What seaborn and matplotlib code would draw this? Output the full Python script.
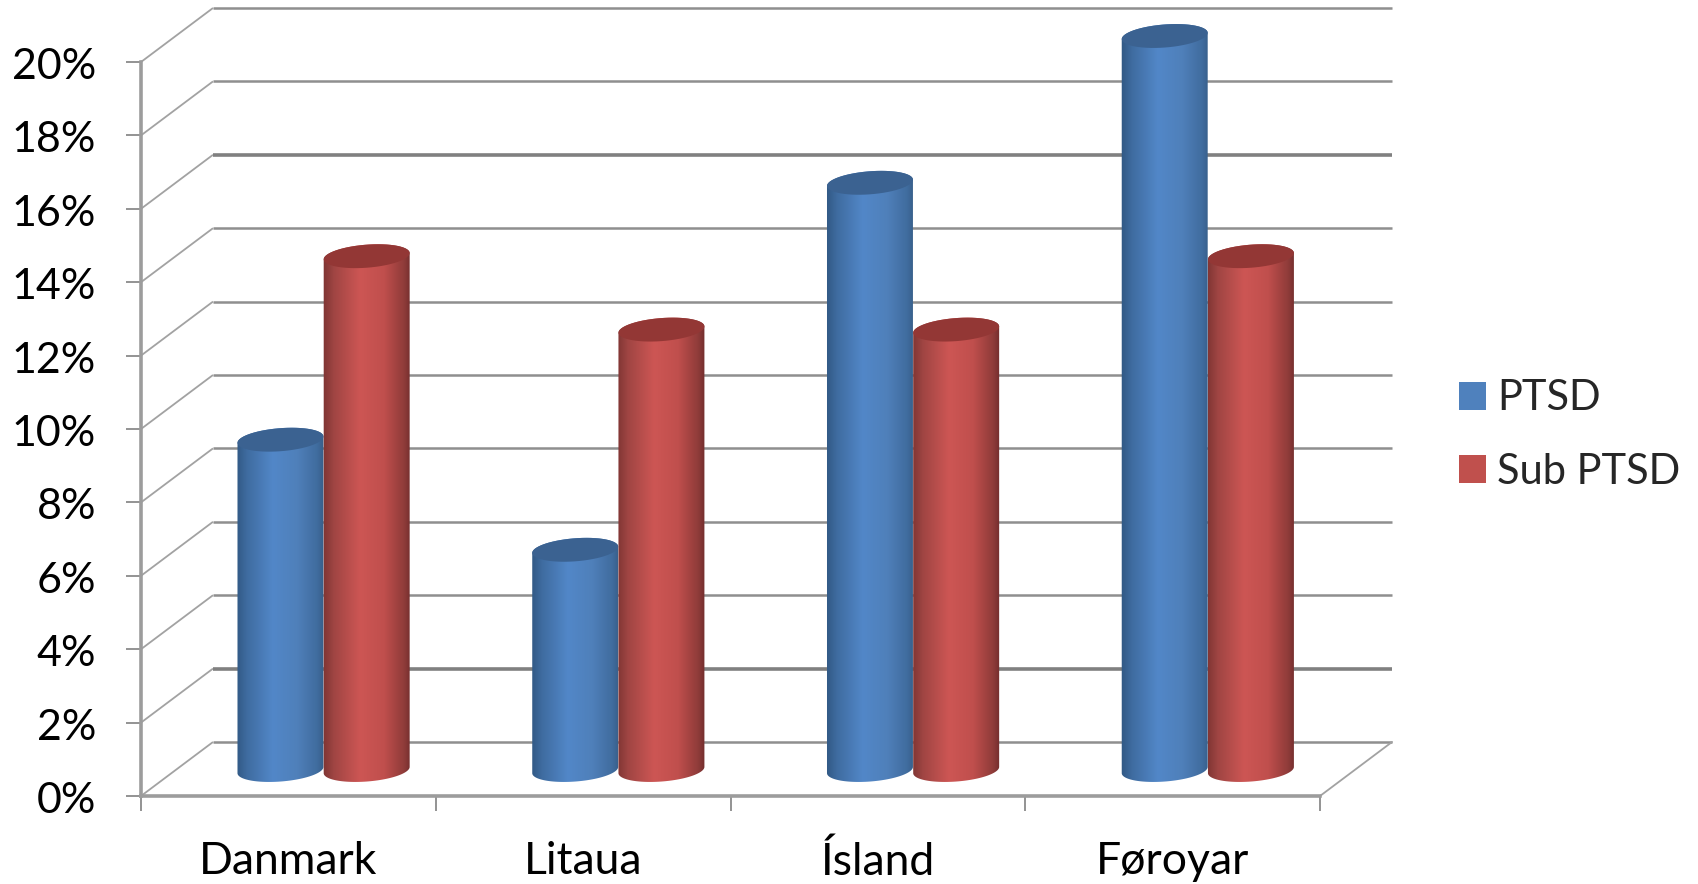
import numpy as np
import pandas as pd
import seaborn as sns
import matplotlib
matplotlib.use("Agg")
import matplotlib.pyplot as plt
from matplotlib.colors import LinearSegmentedColormap
from matplotlib.patches import Patch, Polygon
from matplotlib.transforms import ScaledTranslation

countries = ["Danmark", "Litaua", "Ísland", "Føroyar"]
series_names = ["PTSD", "Sub PTSD"]
ptsd_values = [9, 6, 16, 20]
sub_ptsd_values = [14, 12, 12, 14]
y_ticks = list(range(0, 21, 2))
y_labels = [f"{v}%" for v in y_ticks]

legend_colors = ["#4f81bd", "#c0504d"]
cap_colors = ["#3b6291", "#933735"]
body_stops = [
    ["#2e547e", "#3f6ca0", "#5287c8", "#4f80ba", "#406c9e", "#33587f"],
    ["#783230", "#a04543", "#cd5654", "#c04f4d", "#8e3b39", "#662827"],
]
stop_positions = [0.0, 0.14, 0.42, 0.68, 0.9, 1.0]

W, H = 1698, 884
sns.set_theme(style="white")
plt.rcParams["font.family"] = ["Lato", "DejaVu Sans"]

fig = plt.figure(figsize=(W / 100, H / 100), dpi=100, facecolor="white")
ax = fig.add_axes([141 / W, (H - 796) / H, 1179 / W, 734 / H])

df = pd.DataFrame({
    "country": countries * 2,
    "series": [series_names[0]] * 4 + [series_names[1]] * 4,
    "value": ptsd_values + sub_ptsd_values,
})
sns.barplot(data=df, x="country", y="value", hue="series", palette=legend_colors,
            width=0.585, gap=0, legend=False, errorbar=None, ax=ax)

ax.set_xlim(-0.5, 3.5)
ax.set_ylim(0, 20)
ax.set_xlabel("")
ax.set_ylabel("")

# pixel sizes of one category and one percentage point
px_x = 1179 / 4
px_y = 734 / 20

# depth of the box, and how far into it the cylinders stand
wall_dx, wall_dy = 72 / px_x, 54 / px_y
bar_dx, bar_dy = 35.2 / px_x, 26 / px_y

grid_color = "#8f8f8f"
heavy_lines = {2, 16}
for v in y_ticks:
    ax.plot([-0.5, -0.5 + wall_dx], [v, v + wall_dy], color="#a2a2a2", lw=1.3,
            clip_on=False, zorder=1, solid_capstyle="butt")
    ax.plot([-0.5 + wall_dx, 3.5 + wall_dx], [v + wall_dy, v + wall_dy],
            color="#808080" if v in heavy_lines else grid_color,
            lw=2.6 if v in heavy_lines else 1.8,
            clip_on=False, zorder=1, solid_capstyle="butt")
ax.plot([3.5, 3.5 + wall_dx], [0, wall_dy], color="#a2a2a2", lw=1.3,
        clip_on=False, zorder=1)


def ellipse_arc(cx, cy, half_width, t0, t1):
    """Outline of a slightly tilted cylinder end, in data units."""
    t = np.linspace(t0, t1, 60)
    a, b = half_width * px_x, 11.5
    tilt = np.radians(4.5)
    x = a * np.cos(t) * np.cos(tilt) - b * np.sin(t) * np.sin(tilt)
    y = a * np.cos(t) * np.sin(tilt) + b * np.sin(t) * np.cos(tilt)
    return np.column_stack([cx + x / px_x, cy + y / px_y])


# replace every flat bar with a shaded cylinder of the same height
for s_idx, container in enumerate(ax.containers):
    cmap = LinearSegmentedColormap.from_list(
        f"cyl{s_idx}", list(zip(stop_positions, body_stops[s_idx])))
    for c_idx, rect in enumerate(container):
        rect.set_visible(False)
        left = rect.get_x() + bar_dx
        width = rect.get_width()
        value = rect.get_height()
        cx = left + width / 2
        base = bar_dy
        top = value + bar_dy
        z = 3 + c_idx * 2 + s_idx * 0.5
        outline = np.vstack([
            ellipse_arc(cx, base, width / 2, np.pi, 2 * np.pi),
            ellipse_arc(cx, top, width / 2, 0, np.pi),
        ])
        shell = Polygon(outline, closed=True, transform=ax.transData, fc="none", ec="none")
        ax.add_patch(shell)
        shell.set_clip_on(False)
        img = ax.imshow(np.linspace(0, 1, 256).reshape(1, -1), cmap=cmap, aspect="auto",
                        extent=[left - 0.01, left + width + 0.01, -1, top + 1],
                        zorder=z, interpolation="bilinear")
        img.set_clip_box(fig.bbox)
        img.set_clip_path(shell)
        ax.add_patch(Polygon(ellipse_arc(cx, top, width / 2, 0, 2 * np.pi), closed=True,
                             fc=cap_colors[s_idx], ec="none", zorder=z + 0.1, clip_on=False))

ax.set_xlim(-0.5, 3.5)
ax.set_ylim(0, 20)
ax.set_aspect("auto")

# axes frame
sns.despine(ax=ax, top=True, right=True)
for side in ("left", "bottom"):
    ax.spines[side].set_color("#9c9c9c")
    ax.spines[side].set_linewidth(2.6)
    ax.spines[side].set_zorder(2)

ax.set_yticks(y_ticks, labels=y_labels)
ax.set_xticks(range(4), labels=countries)
ax.set_xticks(np.arange(-0.5, 4, 1), minor=True)
ax.tick_params(axis="y", which="major", left=True, length=10.8, width=1.3,
               color="#8a8a8a", labelsize=31, pad=21.5, labelcolor="black")
ax.tick_params(axis="x", which="major", bottom=False, labelsize=32, pad=26.5,
               labelcolor="black")
ax.tick_params(axis="x", which="minor", bottom=True, length=10.5, width=1.3,
               color="#8a8a8a")
nudge = ScaledTranslation(0, -5 / 100, fig.dpi_scale_trans)
for lab in ax.get_yticklabels():
    lab.set_verticalalignment("center")
    lab.set_transform(lab.get_transform() + nudge)

handles = [Patch(facecolor=c, edgecolor="none", label=n)
           for c, n in zip(legend_colors, series_names)]
fig.legend(handles=handles, loc="center left", bbox_to_anchor=(1459 / W, (H - 435) / H),
           frameon=False, fontsize=30, handlelength=0.65, handleheight=0.65,
           handletextpad=0.27, labelspacing=0.85, borderpad=0, borderaxespad=0)

fig.savefig("out.png", dpi=100, facecolor="white")
